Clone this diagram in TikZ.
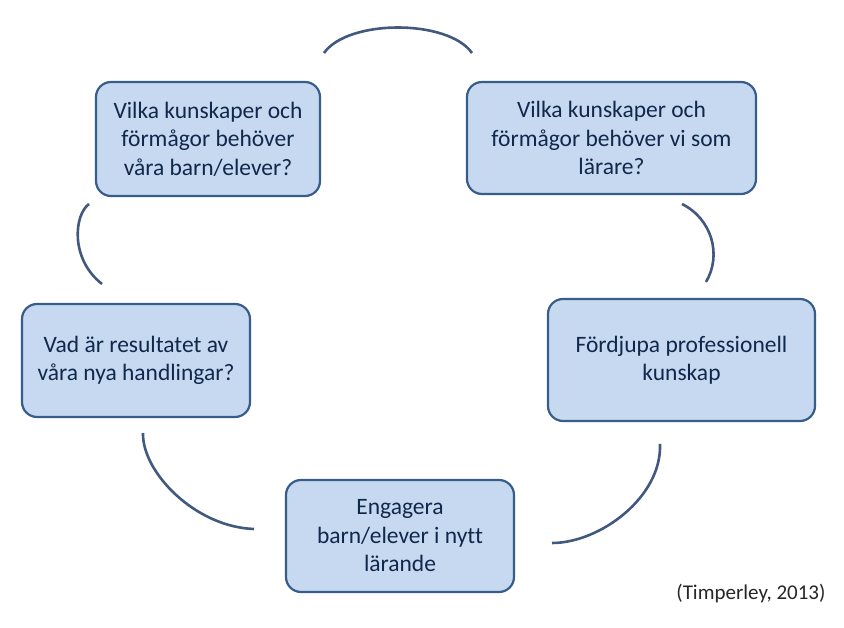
\documentclass[tikz,border=0pt]{standalone}
\usepackage{fontspec}
\setmainfont[Ligatures=NoCommon]{Carlito}
\usepackage{tikz}
\usetikzlibrary{positioning,calc}
\definecolor{boxfill}{HTML}{C6D9F1}
\definecolor{boxdraw}{HTML}{385D8A}
\definecolor{boxtext}{HTML}{10284A}
\definecolor{arcline}{HTML}{41587F}
\tikzset{
  stepbox/.style={
    draw=boxdraw,
    rounded corners=15pt,
    line width=2.2pt,
    fill=boxfill,
    text=boxtext,
    align=center,
    font=\fontsize{23.5}{28.5}\selectfont,
    inner sep=4pt
  },
  cycleline/.style={draw=arcline, line width=2.6pt},
  source/.style={font=\fontsize{21}{24}\selectfont, text=black!85}
}

\begin{document}
\begin{tikzpicture}[x=1pt,y=1pt]
\useasboundingbox (0,0) rectangle (844,627);
\node[stepbox, minimum width=224pt, minimum height=114pt] (barn) at (208,488) {Vilka kunskaper och\\förmågor behöver\\våra barn/elever?};
\node[stepbox, minimum width=289pt, minimum height=112pt] (larare) at (611.5,489) {Vilka kunskaper och\\förmågor behöver vi som\\lärare?};
\node[stepbox, minimum width=267pt, minimum height=122pt] (fordjupa) at (681.5,267) {Fördjupa professionell\\kunskap};
\node[stepbox, minimum width=228pt, minimum height=112pt] (engagera) at (400,91) {Engagera\\barn/elever i nytt\\lärande};
\node[stepbox, minimum width=228pt, minimum height=113pt] (resultat) at (136,266.5) {Vad är resultatet av\\våra nya handlingar?};
\node[source, anchor=east] (kalla) at (829,33) {(Timperley, 2013)};

% arc ends
\coordinate (top1) at (324,574);
\coordinate (top2) at (472,574);
\coordinate (ru1) at (682,423);
\coordinate (ru2) at (706,345);
\coordinate (rl1) at (660,183);
\coordinate (rl2) at (552,84);
\coordinate (ll1) at (254,98);
\coordinate (ll2) at (143,194);
\coordinate (lu1) at (102,343);
\coordinate (lu2) at (89,423);

\draw[cycleline] (top1) .. controls (348,608) and (448,608) .. (top2);
\draw[cycleline] (ru1) .. controls (712,408) and (722,372) .. (ru2);
\draw[cycleline] (rl1) .. controls (662,130) and (600,84) .. (rl2);
\draw[cycleline] (ll1) .. controls (195,100) and (142,155) .. (ll2);
\draw[cycleline] (lu1) .. controls (70,368) and (74,412) .. (lu2);
\end{tikzpicture}
\end{document}
